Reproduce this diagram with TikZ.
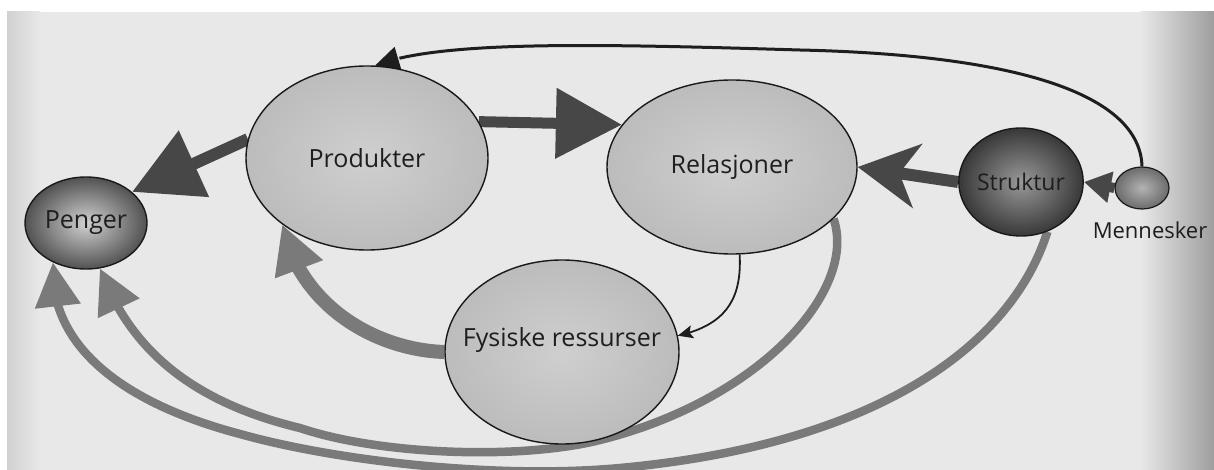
\documentclass[tikz,border=0pt]{standalone}
\usepackage{fontspec}
\setmainfont{Open Sans}
\usetikzlibrary{arrows.meta,bending,shapes.geometric}
\pgfdeclarelayer{paper}
\pgfdeclarelayer{links}
\pgfsetlayers{paper,links,main}
\definecolor{paperc}{HTML}{E8E8E8}
\definecolor{bubin}{HTML}{CFCFCF}
\definecolor{bubout}{HTML}{BCBCBC}
\definecolor{darkline}{HTML}{474747}
\definecolor{greyline}{HTML}{7A7A7A}
\definecolor{inkc}{HTML}{1E1E1E}
\begin{document}
\begin{tikzpicture}[x=1pt,y=-1pt,
  bubble/.style={ellipse, draw=black!90, line width=1.4pt, inner sep=0pt,
    text=inkc, font=\fontsize{25}{30}\selectfont},
  bubtext/.style={text=inkc, font=\fontsize{25}{30}\selectfont, inner sep=0pt},
  smalltext/.style={text=inkc, font=\fontsize{22}{26}\selectfont, inner sep=0pt},
  lightbub/.style={bubble, inner color=bubin, outer color=bubout},
  pengbub/.style={bubble, inner color=black!18, outer color=black!68},
  strbub/.style={bubble, inner color=black!40, outer color=black!78, font=\fontsize{23}{27}\selectfont},
  menbub/.style={bubble, inner color=black!30, outer color=black!58, line width=1.2pt},
  darkarrow/.style={draw=darkline, line width=11pt},
  greyarrow/.style={draw=greyline, line width=8.5pt},
  thinarrow/.style={draw=inkc},
]
\useasboundingbox (0,0) rectangle (1214,470);
\begin{pgfonlayer}{paper}
  \fill[white] (0,0) rectangle (1214,470);
  \fill[paperc] (7,12) rectangle (1214,470);
  \shade[left color=black!18, right color=paperc] (7,12) rectangle (40,470);
  \shade[left color=paperc, right color=black!38] (1140,12) rectangle (1214,470);
\end{pgfonlayer}

% nodes
\node[pengbub, minimum width=122pt, minimum height=92pt] (pen) at (86,223) {Penger};
\node[lightbub, minimum width=242pt, minimum height=184pt] (prod) at (367,158) {Produkter};
\node[lightbub, minimum width=250pt, minimum height=174pt] (rel) at (732,167) {Relasjoner};
\node[lightbub, minimum width=234pt, minimum height=184pt,
  label={[name=fyslab, bubtext, yshift=12pt]center:Fysiske ressurser}] (fys) at (562,352) {};
\node[strbub, minimum width=114pt, minimum height=108pt] (str) at (1021,182) {Struktur};
\node[menbub, minimum width=54pt, minimum height=42pt] (men) at (1142,188) {};
\node[smalltext] (menlab) at (1150,230) {Mennesker};

\begin{pgfonlayer}{links}
  % thick dark arrows
  \draw[darkarrow, -{Triangle[length=66pt,width=68pt]}] (prod.18) -- (rel.159);
  \draw[darkarrow, line width=12pt, -{Triangle[length=68pt,width=70pt]}] (prod.171) -- (pen.34);
  \draw[darkarrow, line width=12pt, -{Stealth[length=60pt,width=64pt,inset=18pt]}] (str.west) -- (rel.east);
  \draw[darkarrow, line width=10pt, -{Triangle[length=27pt,width=30pt]}] (men.west) -- (str.east);
  % grey curved arrows
  \draw[greyarrow, line width=14pt, -{Triangle[length=48pt,width=48pt]}]
    (fys.west) .. controls (380,350) and (301,310) .. (prod.218);
  \draw[greyarrow, -{Triangle[length=44pt,width=44pt]}]
    (rel.-27) .. controls (858,290) and (760,400) .. (600,440)
    .. controls (520,460) and (380,455) .. (300,428)
    .. controls (175,398) and (125,335) .. (pen.-73);
  \draw[greyarrow, -{Triangle[length=44pt,width=44pt]}]
    (str.-62) .. controls (1010,350) and (870,445) .. (620,468)
    .. controls (500,479) and (340,462) .. (240,434)
    .. controls (130,405) and (48,350) .. (pen.230);
  % thin black arrows
  \draw[thinarrow, line width=3pt, -{Triangle[length=24pt,width=24pt]}]
    (men.north) .. controls (1140,95) and (1020,55) .. (800,50)
    .. controls (600,44) and (440,40) .. (prod.85);
  \draw[thinarrow, line width=1.8pt, -{Stealth[length=15pt,width=13pt,inset=3pt]}]
    (rel.-85) .. controls (742,300) and (725,325) .. (fys.8);
\end{pgfonlayer}
\end{tikzpicture}
\end{document}
